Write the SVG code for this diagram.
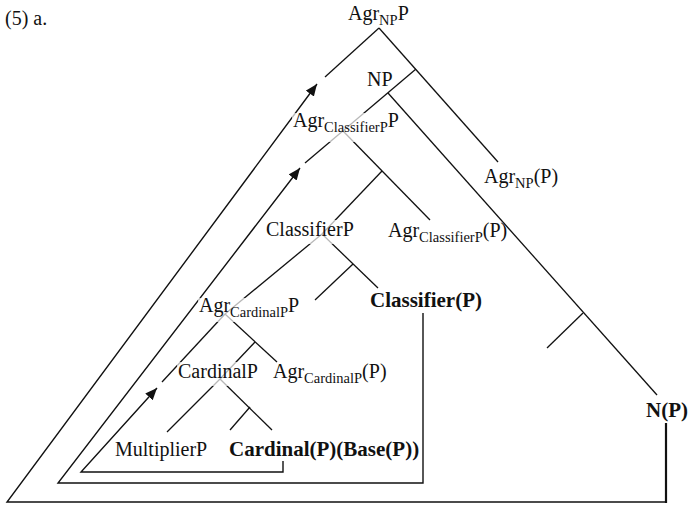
<svg xmlns="http://www.w3.org/2000/svg" width="691" height="509" viewBox="0 0 691 509">
  <style>
    text { font-family: "Liberation Serif", "Times New Roman", serif; font-size: 20px; fill: #111; }
    text.b { font-weight: bold; font-size: 21px; }
    tspan.sub { font-size: 14.5px; }
    .edge { stroke: #111; stroke-width: 1.3; fill: none; stroke-linecap: butt; }
    .move { stroke: #111; stroke-width: 1.4; fill: none; }
    .thick { stroke: #111; stroke-width: 2.2; fill: none; }
    .veil { fill: #fff; fill-opacity: 0.7; }
  </style>
  <defs>
    <marker id="arrow" markerUnits="userSpaceOnUse" markerWidth="14" markerHeight="12" refX="12" refY="5" orient="auto">
      <path d="M0,0 L12,5 L0,10 Z" fill="#111"/>
    </marker>
  </defs>

  <rect width="691" height="509" fill="#fff"/>

  <text x="5" y="25">(5) a.</text>

  <!-- tree edges and movement paths -->
  <g id="connectors">
    <line class="edge" x1="379" y1="28" x2="325" y2="77"/>
    <line class="edge" x1="379" y1="28" x2="498" y2="162"/>
    <line class="edge" x1="416" y1="69" x2="305" y2="163"/>
    <line class="edge" x1="388" y1="93" x2="657" y2="395"/>
    <line class="edge" x1="583" y1="313" x2="547" y2="348"/>

    <line class="edge" x1="343" y1="131" x2="430" y2="220"/>
    <line class="edge" x1="382" y1="171" x2="322" y2="234"/>
    <line class="edge" x1="322" y1="234" x2="378" y2="288"/>
    <line class="edge" x1="353" y1="264" x2="315" y2="300"/>
    <line class="edge" x1="322" y1="234" x2="225" y2="314"/>

    <line class="edge" x1="225" y1="314" x2="162" y2="382"/>
    <line class="edge" x1="225" y1="314" x2="277" y2="362"/>
    <line class="edge" x1="255" y1="342" x2="220" y2="379"/>
    <line class="edge" x1="220" y1="379" x2="167" y2="432"/>
    <line class="edge" x1="220" y1="379" x2="272" y2="430"/>
    <line class="edge" x1="250" y1="407" x2="230" y2="430"/>

    <polyline class="move" points="666,502 7,502 317,84" marker-end="url(#arrow)"/>
    <line class="thick" x1="666" y1="423" x2="666" y2="503"/>
    <polyline class="move" points="423,313 423,483 58,483 300,168" marker-end="url(#arrow)"/>
    <polyline class="move" points="283,461 283,472 81,472 157,388" marker-end="url(#arrow)"/>
  </g>

  <g id="AgrNPP"><text x="348" y="20">Agr<tspan class="sub" dy="5">NP</tspan><tspan dy="-5">P</tspan></text></g>
  <g id="NP"><text x="367" y="86">NP</text></g>
  <g id="AgrClassifierPP">
    <rect class="veil" x="292" y="113" width="110" height="29"/>
    <text x="293" y="127">Agr<tspan class="sub" dy="5">ClassifierP</tspan><tspan dy="-5">P</tspan></text>
  </g>
  <g id="AgrNP-P"><text x="484" y="183">Agr<tspan class="sub" dy="5">NP</tspan><tspan dy="-5">(P)</tspan></text></g>
  <g id="ClassifierP">
    <rect class="veil" x="265" y="220" width="94" height="24"/>
    <text x="266" y="236">ClassifierP</text>
  </g>
  <g id="AgrClassifierP-P"><text x="388" y="237">Agr<tspan class="sub" dy="5">ClassifierP</tspan><tspan dy="-5">(P)</tspan></text></g>
  <g id="Classifier-P"><text class="b" x="370" y="307">Classifier(P)</text></g>
  <g id="AgrCardinalPP">
    <rect class="veil" x="198" y="298" width="105" height="24"/>
    <text x="199" y="312">Agr<tspan class="sub" dy="5">CardinalP</tspan><tspan dy="-5">P</tspan></text>
  </g>
  <g id="CardinalP">
    <rect class="veil" x="177" y="362" width="88" height="24"/>
    <text x="178" y="378">CardinalP</text>
  </g>
  <g id="AgrCardinalP-P"><text x="273" y="378">Agr<tspan class="sub" dy="5">CardinalP</tspan><tspan dy="-5">(P)</tspan></text></g>
  <g id="MultiplierP"><text x="115" y="456">MultiplierP</text></g>
  <g id="Cardinal-P-Base-P"><text class="b" x="229" y="456">Cardinal(P)(Base(P))</text></g>
  <g id="N-P"><text class="b" x="646" y="417">N(P)</text></g>
</svg>
